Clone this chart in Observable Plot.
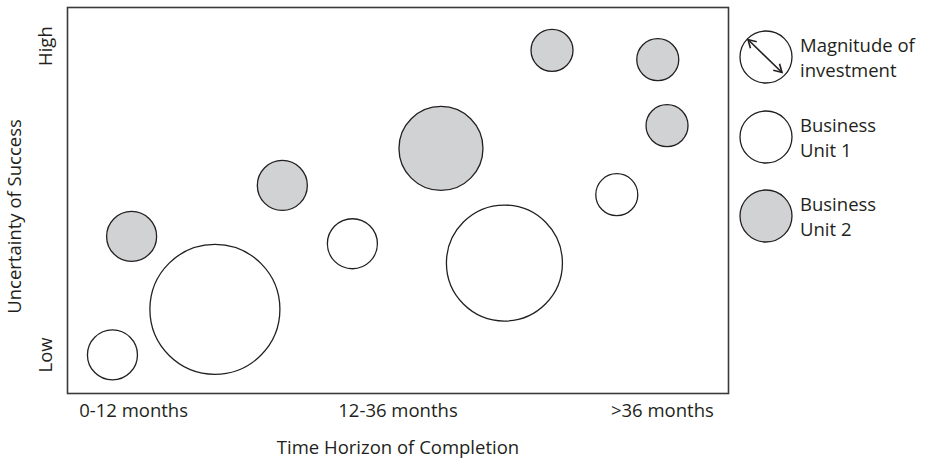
<!DOCTYPE html>
<html>
<head>
<meta charset="utf-8">
<script src="https://cdn.jsdelivr.net/npm/d3@7"></script>
<script src="https://cdn.jsdelivr.net/npm/@observablehq/plot@0.6"></script>
<style>
  html, body { margin: 0; padding: 0; background: #fff; }
  #chart { position: relative; width: 926px; height: 461px; }
  svg { font-family: "Open Sans", sans-serif; }
</style>
</head>
<body>
<div id="chart"></div>
<script>
// Bubble data (time horizon 0-100, uncertainty 0-100, investment magnitude as radius)
const timeHorizon = [6.8, 22.3, 9.7, 32.5, 43.1, 56.5, 66.1, 73.3, 89.3, 90.7, 83.1];
const uncertainty = [10.0, 21.8, 40.7, 53.9, 38.8, 63.5, 33.8, 88.9, 86.5, 69.4, 51.5];
const magnitude   = [25, 65, 25, 25, 25, 42, 58, 21, 21, 21, 21];
const businessUnit = [1, 1, 2, 2, 1, 2, 1, 2, 2, 2, 1];

// Axis tick labels
const xTickValues = [10, 50, 90];
const xTickLabels = ["0-12 months", "12-36 months", ">36 months"];
const yTickValues = [90, 10];
const yTickLabels = ["High", "Low"];

// Legend
const legendLabels = [["Magnitude of", "investment"], ["Business", "Unit 1"], ["Business", "Unit 2"]];

const unitFill = {1: "#ffffff", 2: "#d1d2d4"};

const bubbles = timeHorizon.map((t, i) => ({
  t, u: uncertainty[i], m: magnitude[i], unit: businessUnit[i]
}));

const textColor = "#231f20";
const fs = 18.5;

const plot = Plot.plot({
  width: 926,
  height: 461,
  marginLeft: 67,
  marginRight: 198,
  marginTop: 7,
  marginBottom: 68,
  style: {fontFamily: "'Open Sans', sans-serif", color: textColor, background: "#fff"},
  x: {domain: [0, 100], axis: null},
  y: {domain: [0, 100], axis: null},
  r: {type: "identity"},
  marks: [
    Plot.dot(bubbles, {
      x: "t", y: "u", r: "m",
      fill: d => unitFill[d.unit],
      stroke: "#231f20", strokeWidth: 1.3
    }),
    Plot.frame({stroke: "#3a3a3a", strokeWidth: 1.6}),
    Plot.text(xTickValues, {
      x: d => d, text: (d, i) => xTickLabels[i],
      frameAnchor: "bottom", dy: 18, lineAnchor: "middle",
      fontSize: fs, fill: textColor
    }),
    Plot.text(yTickValues, {
      y: d => d, text: (d, i) => yTickLabels[i],
      frameAnchor: "left", dx: -21, rotate: -90,
      textAnchor: "middle", lineAnchor: "middle",
      fontSize: fs, fill: textColor
    }),
    Plot.text(["Time Horizon of Completion"], {
      frameAnchor: "bottom", dy: 55, lineAnchor: "middle",
      fontSize: fs, fill: textColor
    }),
    Plot.text(["Uncertainty of Success"], {
      frameAnchor: "left", dx: -52, dy: 16, rotate: -90,
      textAnchor: "middle", lineAnchor: "middle",
      fontSize: fs, fill: textColor
    })
  ]
});

document.getElementById("chart").appendChild(plot);

// Legend drawn into the same SVG
const svg = d3.select(plot);
const legendX = 766;
const legendYs = [57, 137, 216];
const legendR = 26;
const lg = svg.append("g").attr("text-anchor", "start");

function arrowHead(g, tx, ty, ux, uy) {
  // tip at (tx,ty), pointing in direction (ux,uy)
  const L = 9, a = Math.PI / 6;
  const bx = -ux, by = -uy;
  const p1 = [tx + L * (bx * Math.cos(a) - by * Math.sin(a)), ty + L * (bx * Math.sin(a) + by * Math.cos(a))];
  const p2 = [tx + L * (bx * Math.cos(-a) - by * Math.sin(-a)), ty + L * (bx * Math.sin(-a) + by * Math.cos(-a))];
  g.append("path")
    .attr("d", `M${p1[0]},${p1[1]}L${tx},${ty}L${p2[0]},${p2[1]}`)
    .attr("fill", "none").attr("stroke", "#231f20").attr("stroke-width", 1.6)
    .attr("stroke-linejoin", "miter");
}

legendLabels.forEach((lines, i) => {
  const cy = legendYs[i];
  lg.append("circle")
    .attr("cx", legendX).attr("cy", cy).attr("r", legendR)
    .attr("fill", i === 2 ? unitFill[2] : "#fff")
    .attr("stroke", "#231f20").attr("stroke-width", 1.3);
  if (i === 0) {
    const x1 = legendX - 18, y1 = cy - 17.5, x2 = legendX + 16, y2 = cy + 15.5;
    lg.append("line")
      .attr("x1", x1).attr("y1", y1).attr("x2", x2).attr("y2", y2)
      .attr("stroke", "#231f20").attr("stroke-width", 1.6);
    const len = Math.hypot(x2 - x1, y2 - y1);
    const ux = (x2 - x1) / len, uy = (y2 - y1) / len;
    arrowHead(lg, x2, y2, ux, uy);
    arrowHead(lg, x1, y1, -ux, -uy);
  }
  lines.forEach((line, j) => {
    lg.append("text")
      .attr("x", 800)
      .attr("y", cy - 11 + j * 25)
      .attr("dy", "0.35em")
      .attr("font-size", fs)
      .attr("fill", textColor)
      .attr("text-anchor", "start")
      .text(line);
  });
});
</script>
</body>
</html>
